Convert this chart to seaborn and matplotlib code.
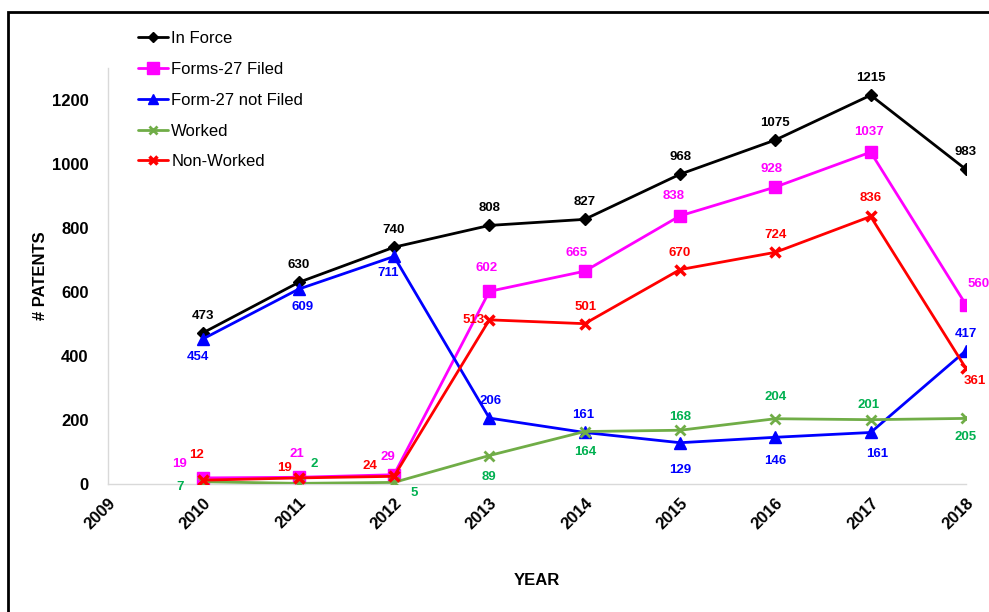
import matplotlib
matplotlib.use("Agg")
import matplotlib.pyplot as plt
from matplotlib.lines import Line2D
from matplotlib.patches import Rectangle
import seaborn as sns
import pandas as pd

# ===================== data =====================
years = [2010, 2011, 2012, 2013, 2014, 2015, 2016, 2017, 2018]
in_force = [473, 630, 740, 808, 827, 968, 1075, 1215, 983]
forms_filed = [19, 21, 29, 602, 665, 838, 928, 1037, 560]
not_filed = [454, 609, 711, 206, 161, 129, 146, 161, 417]
worked = [7, 2, 5, 89, 164, 168, 204, 201, 205]
non_worked = [12, 19, 24, 513, 501, 670, 724, 836, 361]
series_names = ["In Force", "Forms-27 Filed", "Form-27 not Filed", "Worked", "Non-Worked"]
x_ticks = list(range(2009, 2019))
y_ticks = [0, 200, 400, 600, 800, 1000, 1200]

# ===================== styles =====================
line_colors = ["#000000", "#FF00FF", "#0000FF", "#70AD47", "#FF0000"]
label_colors = ["#000000", "#FF00FF", "#0000FF", "#00B050", "#FF0000"]
markers = ["D", "s", "^", "x", "x"]
marker_sizes = [6, 9, 8, 7, 7]
marker_edge = [1, 1, 1, 2, 2.5]

# label offsets in pixels (dx, dy), one list per series
label_offsets = [
    [(0, 17)] * 9,
    [(-24, 14), (-2, 23), (-6, 18), (-3, 23), (-8, 18), (-6, 20), (-4, 18), (-2, 20), (13, 21)],
    [(-5, -18), (4, -18), (-6, -17), (1, 17), (-1, 17), (0, -27), (0, -24), (7, -22), (0, 17)],
    [(-23, -5), (16, 19), (20, -11), (0, -21), (1, -20), (0, 13), (0, 22), (-2, 15), (0, -19)],
    [(-7, 25), (-14, 10), (-24, 10), (-16, 0), (1, 17), (0, 17), (0, 17), (0, 18), (9, -13)],
]

all_values = [in_force, forms_filed, not_filed, worked, non_worked]
df = pd.concat(
    [pd.DataFrame({"year": years, "value": v, "series": n}) for n, v in zip(series_names, all_values)],
    ignore_index=True,
)

sns.set_style("white")
plt.rcParams["font.family"] = ["Liberation Sans", "DejaVu Sans"]
plt.rcParams["text.color"] = "black"
plt.rcParams["axes.labelcolor"] = "black"
plt.rcParams["xtick.color"] = "black"
plt.rcParams["ytick.color"] = "black"

fig = plt.figure(figsize=(9.89, 6.12), dpi=100)
ax = fig.add_axes([108 / 989, 1 - 484 / 612, (966 - 108) / 989, (484 - 68) / 612])

handles = []
for i, name in enumerate(series_names):
    sub = df[df["series"] == name]
    sns.lineplot(data=sub, x="year", y="value", ax=ax, color=line_colors[i],
                 marker=markers[i], markersize=marker_sizes[i],
                 markeredgewidth=marker_edge[i], markeredgecolor=line_colors[i],
                 linewidth=2, legend=False, zorder=3 + i)
    handles.append(Line2D([], [], color=line_colors[i], marker=markers[i],
                          markersize=marker_sizes[i] * 0.9, markeredgewidth=marker_edge[i],
                          markeredgecolor=line_colors[i], linewidth=2, label=name))
    for (x, y), (dx, dy) in zip(zip(sub["year"], sub["value"]), label_offsets[i]):
        ax.annotate(str(y), (x, y), xytext=(dx, dy), textcoords="offset pixels",
                    ha="center", va="center", fontsize=9.5, fontweight="bold",
                    color=label_colors[i], zorder=10, annotation_clip=False)

ax.set_xlim(2009, 2018)
ax.set_ylim(0, 1300)
ax.set_xticks(x_ticks)
ax.set_yticks(y_ticks)
ax.set_xticklabels([str(t) for t in x_ticks], rotation=45, ha="right",
                   rotation_mode="anchor", fontsize=12, fontweight="bold")
ax.set_yticklabels([str(t) for t in y_ticks], fontsize=12, fontweight="bold")
ax.tick_params(axis="both", length=0)
ax.tick_params(axis="x", pad=8)
ax.tick_params(axis="y", pad=14)
ax.set_xlabel("YEAR", fontsize=12, fontweight="bold", labelpad=30)
ax.set_ylabel("# PATENTS", fontsize=12, fontweight="bold", labelpad=3)

for side in ["top", "right"]:
    ax.spines[side].set_visible(False)
for side in ["left", "bottom"]:
    ax.spines[side].set_color("#D9D9D9")
    ax.spines[side].set_linewidth(1)

fig.legend(handles=handles, loc="upper left", bbox_to_anchor=(138 / 989, 1 - 31 / 612),
           bbox_transform=fig.transFigure, frameon=False, fontsize=12,
           handlelength=1.8, handletextpad=0.2, labelspacing=0.95,
           borderpad=0, borderaxespad=0)

# outer frame (only left and top edges visible)
fig.add_artist(Rectangle((8 / 989, -0.1), 1.2, 1.1 - 12 / 612, fill=False,
                         edgecolor="black", linewidth=2, transform=fig.transFigure))

fig.savefig("out.png", dpi=100)
